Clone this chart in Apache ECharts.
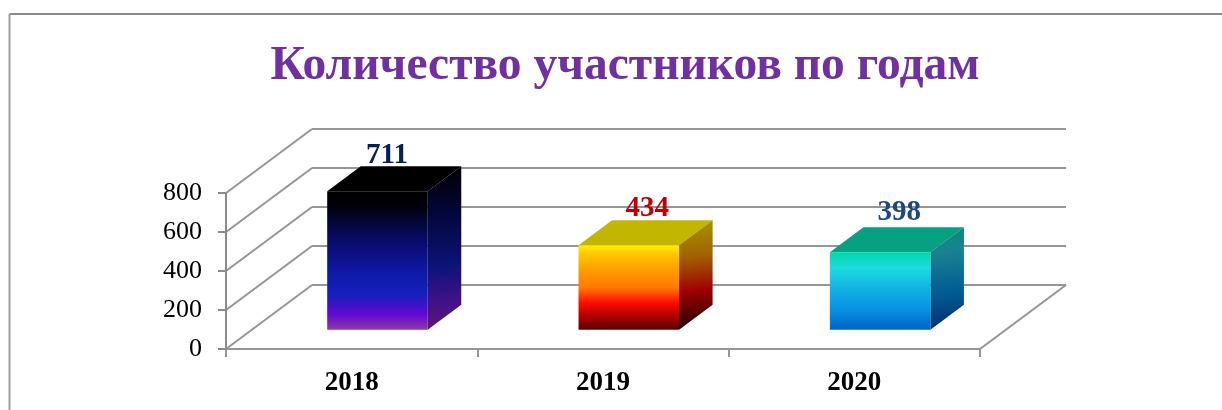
<!DOCTYPE html>
<html>
<head>
<meta charset="utf-8">
<script src="https://cdn.jsdelivr.net/npm/echarts@6/dist/echarts.min.js"></script>
<style>html,body{margin:0;padding:0;background:#fff}#c{width:1222px;height:410px}</style>
</head>
<body>
<div id="c"></div>
<script>
const chartTitle = 'Количество участников по годам';
const categories = ['2018', '2019', '2020'];
const values = [711, 434, 398];
const axisMax = 800;
const axisStep = 200;
const gridTicks = [0, 200, 400, 600, 800];
const labelColors = ['#002060', '#c00000', '#1f497d'];

// Layout of the pseudo-3D box, separate from the data
const wallDX = 86, wallDY = 64, tickLen = 8;
const barFrontFrac = 0.30, barDepthFrac = 0.39, barWidthFrac = 0.40;
const labelShift = [[9.5, -11], [18.5, -12], [19, -15]];

const serif = '"Liberation Serif", "Times New Roman", serif';
const GRAY = '#969696';
const AXIS_GRAY = '#8a8a8a';

function grad(x2, y2, stops) {
  return new echarts.graphic.LinearGradient(0, 0, x2, y2,
    stops.map(s => ({ offset: s[0], color: s[1] })));
}
const faces = [
  {
    front: [[0, '#000000'], [0.1, '#000008'], [0.34, '#080a64'], [0.58, '#1018a4'], [0.74, '#1420bc'], [0.89, '#6208d2'], [1, '#8e3aa6']],
    side: [[0, '#000000'], [0.3, '#04063c'], [0.62, '#0c1478'], [0.82, '#40108a'], [1, '#5a1a70']],
    top: '#000000'
  },
  {
    front: [[0, '#fff000'], [0.1, '#ffc800'], [0.3, '#ff9c00'], [0.5, '#ff7a00'], [0.68, '#ff0c00'], [0.85, '#aa0000'], [1, '#560404']],
    side: [[0, '#a89800'], [0.35, '#a06000'], [0.65, '#a00000'], [1, '#200000']],
    top: '#c2b600'
  },
  {
    front: [[0, '#02d6a6'], [0.2, '#1cdce0'], [0.5, '#10aee2'], [0.75, '#0690e4'], [1, '#0062c4']],
    side: [[0, '#088a78'], [0.25, '#1a8292'], [0.65, '#005c94'], [1, '#002f6e']],
    top: '#04a280'
  }
];

const chart = echarts.init(document.getElementById('c'));

function renderWalls(params, api) {
  const v = api.value(0);
  const s = params.coordSys;
  const y = api.coord([0, v])[1];
  const y0 = api.coord([0, 0])[1];
  const line = (x1, y1, x2, y2, c) => ({
    type: 'line',
    shape: { x1, y1, x2, y2 },
    style: { stroke: c || GRAY, lineWidth: 2 }
  });
  const children = [
    line(s.x - tickLen, y, s.x, y, AXIS_GRAY),
    line(s.x, y, s.x, y0, AXIS_GRAY),
    line(s.x, y, s.x + wallDX, y - wallDY),
    line(s.x + wallDX, y - wallDY, s.x + s.width + wallDX, y - wallDY)
  ];
  if (v === 0) children.push(line(s.x + s.width, y, s.x + s.width + wallDX, y - wallDY));
  return { type: 'group', children };
}

function renderBox(params, api) {
  const i = api.value(0);
  const base = api.coord([i, 0]);
  const top = api.coord([i, api.value(1)]);
  const w = api.size([1, 0])[0] * barWidthFrac;
  const ox = wallDX * barFrontFrac, oy = wallDY * barFrontFrac;
  const dx = wallDX * barDepthFrac, dy = wallDY * barDepthFrac;
  const x0 = base[0] - w / 2 + ox, x1 = x0 + w;
  const yb = base[1] - oy, yt = top[1] - oy;
  const f = faces[i];
  return {
    type: 'group',
    children: [
      { type: 'polygon', shape: { points: [[x0, yt], [x0 + dx, yt - dy], [x1 + dx, yt - dy], [x1, yt]] }, style: { fill: f.top } },
      { type: 'polygon', shape: { points: [[x1, yt], [x1 + dx, yt - dy], [x1 + dx, yb - dy], [x1, yb]] }, style: { fill: grad(0.35, 1, f.side) } },
      { type: 'rect', shape: { x: x0, y: yt, width: w, height: yb - yt }, style: { fill: grad(0, 1, f.front) } },
      {
        type: 'text', z2: 10,
        style: {
          x: (x0 + x1) / 2 + labelShift[i][0],
          y: yt - dy + labelShift[i][1],
          text: String(api.value(1)),
          fill: labelColors[i],
          font: 'bold 29px ' + serif,
          align: 'center', verticalAlign: 'middle'
        }
      }
    ]
  };
}

chart.setOption({
  animation: false,
  backgroundColor: '#ffffff',
  title: {
    text: chartTitle, left: 620, top: 38, textAlign: 'center',
    textStyle: { fontFamily: serif, fontWeight: 'bold', fontSize: 47.5, color: '#7030a0' }
  },
  grid: { left: 226, right: 242, top: 193, bottom: 61 },
  xAxis: {
    type: 'category', data: categories, boundaryGap: true,
    axisLine: { lineStyle: { color: GRAY, width: 2 } },
    axisTick: { show: true, length: 8, lineStyle: { color: GRAY, width: 2 } },
    axisLabel: { margin: 21, fontFamily: serif, fontWeight: 'bold', fontSize: 27, color: '#000000' },
    splitLine: { show: false }
  },
  yAxis: {
    type: 'value', min: 0, max: axisMax, interval: axisStep,
    axisLine: { show: false },
    axisTick: { show: false },
    axisLabel: { margin: 24, fontFamily: serif, fontSize: 26, color: '#000000' },
    splitLine: { show: false }
  },
  graphic: [
    { type: 'line', silent: true, shape: { x1: 9.5, y1: 14, x2: 1222, y2: 14 }, style: { stroke: '#8c8c8c', lineWidth: 2 } },
    { type: 'line', silent: true, shape: { x1: 9.5, y1: 14, x2: 9.5, y2: 410 }, style: { stroke: '#9c9c9c', lineWidth: 2 } }
  ],
  series: [
    { type: 'custom', coordinateSystem: 'cartesian2d', renderItem: renderWalls, silent: true, z: 1, clip: false,
      encode: { y: 0 }, data: gridTicks.map(t => [t]) },
    { type: 'custom', coordinateSystem: 'cartesian2d', renderItem: renderBox, z: 5, clip: false,
      encode: { x: 0, y: 1 }, data: values.map((v, i) => [i, v]) }
  ]
});
</script>
</body>
</html>
